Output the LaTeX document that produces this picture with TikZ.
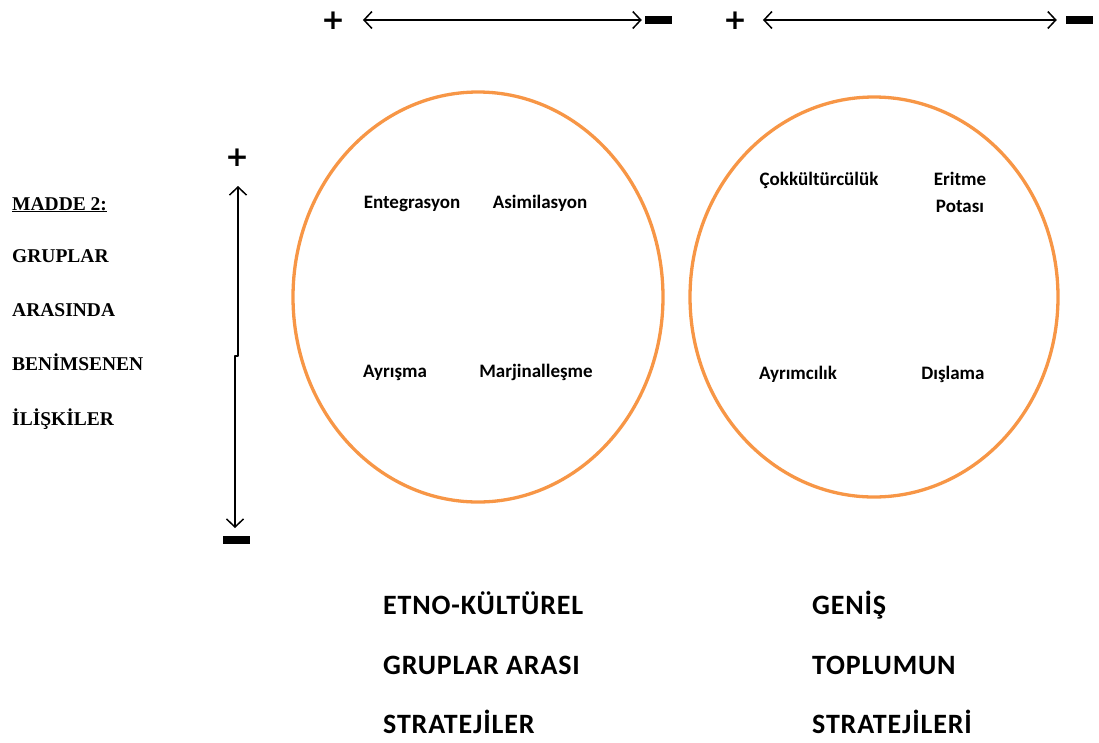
\documentclass[tikz,border=0pt]{standalone}
\usepackage{fontspec}
\setmainfont{Liberation Serif}
\newfontfamily\calibri{Carlito}
\newfontfamily\calibrisp[LetterSpace=3]{Carlito}
\newfontfamily\signf{DejaVu Sans}
\usetikzlibrary{arrows.meta,shapes.geometric}
\definecolor{ring}{HTML}{F79646}
\tikzset{
  barb/.tip={Straight Barb[length=8pt,width=17pt,line width=1.5pt]},
  dbl/.style={draw=black, line width=1.4pt, barb-barb},
  plus/.style={font=\signf\bfseries\fontsize{28}{28}\selectfont, inner sep=0pt},
  minus/.style={fill=black, minimum width=27pt, minimum height=8pt, inner sep=0pt},
  circ/.style={draw=ring, line width=3.3pt, ellipse, inner sep=0pt},
  item/.style={font=\calibri\bfseries\fontsize{19}{23}\selectfont, inner sep=0pt,
    text height=12pt, text depth=4pt},
  side/.style={font=\bfseries\fontsize{19.5}{19.5}\selectfont, anchor=west, inner sep=0pt,
    text height=13pt, text depth=3pt},
  foot/.style={font=\calibrisp\bfseries\fontsize{28}{28}\selectfont, anchor=west, inner sep=0pt,
    text height=18pt, text depth=0pt},
}
\begin{document}
\begin{tikzpicture}[x=1pt,y=-1pt]
  \useasboundingbox (0,0) rectangle (1099,742);
  % top scales
  \node[plus] (plusA) at (333,21) {+};
  \node[minus] (minusA) at (658.5,20) {};
  \draw[dbl, shorten <=18pt, shorten >=3pt] (plusA.east |- minusA) -- (minusA.west);
  \node[plus] (plusB) at (735,21) {+};
  \node[minus] (minusB) at (1079.5,20) {};
  \draw[dbl, shorten <=16pt, shorten >=9pt] (plusB.east |- minusB) -- (minusB.west);
  % vertical scale
  \node[plus] (plusV) at (237,158) {+};
  \node[minus] (minusV) at (236,540) {};
  \coordinate (vtop) at (238,186);
  \coordinate (vbot) at (235,528);
  \draw[dbl, line join=round] (vtop) -- (vtop |- 0,356) -- (vbot |- 0,356) -- (vbot);
  % left side text
  \node[side] (madde) at (12,205) {\underline{MADDE 2:}};
  \node[side] (grup) at (12,257) {GRUPLAR};
  \node[side] (ara) at (12,311) {ARASINDA};
  \node[side] (benim) at (12,365) {BENİMSENEN};
  \node[side] (iliski) at (12,420) {İLİŞKİLER};
  % circles
  \node[circ, minimum width=370pt, minimum height=410pt] (etno) at (478,297) {};
  \node[circ, minimum width=368pt, minimum height=400pt] (genis) at (874,297) {};
  \node[item] (enteg) at (412,204) {Entegrasyon};
  \node[item] (asim) at (540,204) {Asimilasyon};
  \node[item] (ayris) at (395,373) {Ayrışma};
  \node[item] (marj) at (536,373) {Marjinalleşme};
  \node[item] (cokk) at (819,181) {Çokkültürcülük};
  \node[item] (eritA) at (960,181) {Eritme};
  \node[item] (eritB) at (960,208) {Potası};
  \node[item] (ayrim) at (798,375) {Ayrımcılık};
  \node[item] (disla) at (953,375) {Dışlama};
  % bottom captions
  \node[foot] (etnoA) at (383,605) {ETNO-KÜLTÜREL};
  \node[foot] (etnoB) at (383,665) {GRUPLAR ARASI};
  \node[foot] (etnoC) at (383,724) {STRATEJİLER};
  \node[foot] (genA) at (812,605) {GENİŞ};
  \node[foot] (genB) at (812,665) {TOPLUMUN};
  \node[foot] (genC) at (812,724) {STRATEJİLERİ};
\end{tikzpicture}
\end{document}
